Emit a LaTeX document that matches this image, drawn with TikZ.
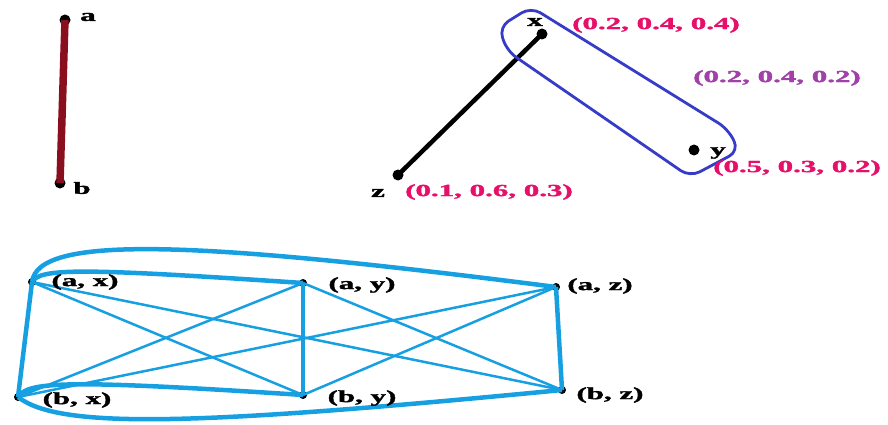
\documentclass[tikz,border=0pt]{standalone}
\usepackage{fontspec}
\setmainfont{Liberation Serif}[BoldFeatures={FakeBold=1.5}]
\definecolor{edgeblue}{RGB}{22,160,226}
\definecolor{loopblue}{RGB}{55,60,200}
\definecolor{darkred}{RGB}{138,15,30}
\definecolor{pinklab}{RGB}{230,16,106}
\definecolor{purplab}{RGB}{160,64,168}
\begin{document}
\begin{tikzpicture}[x=1pt,y=-1pt,
  dot/.style={circle,fill=black,inner sep=0pt,minimum size=11pt},
  sdot/.style={circle,fill=black,inner sep=0pt,minimum size=8pt},
  lab/.style={font=\fontsize{17}{17}\selectfont\bfseries,xscale=1.82,inner sep=0pt},
  thick edge/.style={draw=edgeblue,line width=4.5pt},
  thin edge/.style={draw=edgeblue,line width=2.5pt}]
\useasboundingbox (0,0) rectangle (888,425);
% top-left
\node[dot] (a) at (65,20) {};
\node[dot] (b) at (60,183) {};
\draw[darkred,line width=7.5pt] (a.center) -- (b.center);
\node[lab] (la) at (88,17) {a};
\node[lab] (lb) at (82,188) {b};
% top-right hypergraph
\node[dot] (x) at (542,34) {};
\node[dot] (y) at (694,150) {};
\node[dot] (z) at (398,175) {};
\draw[black,line width=4.5pt] (z.center) -- (x.center);
\draw[loopblue,line width=2.8pt,rounded corners=11pt]
  (531,7) -- (728,129) -- (739,151) -- (690,177) -- (507,51) -- (499,27) -- cycle;
\node[lab] (lx) at (535,22) {x};
\node[lab] (ly) at (718,153) {y};
\node[lab] (lz) at (378,193) {z};
\node[lab,text=pinklab] (wx) at (656,25) {(0.2, 0.4, 0.4)};
\node[lab,text=purplab] (we) at (777,78) {(0.2, 0.4, 0.2)};
\node[lab,text=pinklab] (wy) at (797,168) {(0.5, 0.3, 0.2)};
\node[lab,text=pinklab] (wz) at (489,192) {(0.1, 0.6, 0.3)};
% bottom product graph
\node[sdot] (ax) at (32,282) {};
\node[sdot] (ay) at (303,283) {};
\node[sdot] (az) at (556,287) {};
\node[sdot] (bx) at (18,397) {};
\node[sdot] (by) at (303,395) {};
\node[sdot] (bz) at (562,390) {};
\draw[thin edge] (ax.center) -- (by.center);
\draw[thin edge] (bx.center) -- (ay.center);
\draw[thin edge] (ay.center) -- (bz.center);
\draw[thin edge] (by.center) -- (az.center);
\draw[thin edge] (ax.center) -- (bz.center);
\draw[thin edge] (bx.center) -- (az.center);
\draw[thick edge] (ax.center) -- (bx.center);
\draw[thick edge] (ay.center) -- (by.center);
\draw[thick edge] (az.center) -- (bz.center);
\draw[thick edge] (ax.center) .. controls (40,268) and (80,268) .. (ay.center);
\draw[thick edge] (bx.center) .. controls (28,382) and (60,379) .. (by.center);
\draw[thick edge] (ax.center) .. controls (38,235) and (190,240) .. (az.center);
\draw[thick edge] (bx.center) .. controls (60,430) and (200,425) .. (bz.center);
\node[lab] (lax) at (85,282) {(a, x)};
\node[lab] (lay) at (362,285) {(a, y)};
\node[lab] (laz) at (600,286) {(a, z)};
\node[lab] (lbx) at (77,400) {(b, x)};
\node[lab] (lby) at (362,398) {(b, y)};
\node[lab] (lbz) at (610,395) {(b, z)};
\end{tikzpicture}
\end{document}
